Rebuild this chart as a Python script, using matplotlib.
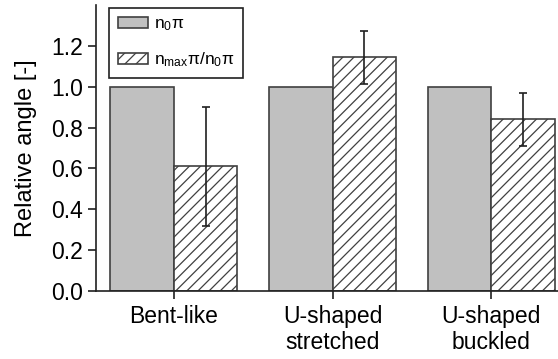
import matplotlib
matplotlib.use('Agg')
import matplotlib.pyplot as plt
import numpy as np

categories = ['Bent-like', 'U-shaped\nstretched', 'U-shaped\nbuckled']
n0_values = [1.0, 1.0, 1.0]
ratio_values = [0.61, 1.145, 0.84]
ratio_errors = [0.29, 0.13, 0.13]

plt.rcParams['font.family'] = ['Liberation Sans', 'DejaVu Sans']
plt.rcParams['mathtext.fontset'] = 'custom'
plt.rcParams['mathtext.rm'] = 'Liberation Sans'
plt.rcParams['mathtext.it'] = 'Liberation Sans:italic'
plt.rcParams['hatch.linewidth'] = 0.9
plt.rcParams['hatch.color'] = '#303030'

fig = plt.figure(figsize=(5.58, 3.59), dpi=100)
ax = fig.add_axes([96 / 558, 68 / 359, 1 - 96 / 558, 286 / 359])

x = np.arange(len(categories))
w = 0.4
edge = '#404040'
ax.bar(x - w / 2, n0_values, w, color='#c0c0c0', edgecolor=edge, linewidth=1.2,
       label=r'$\mathregular{n_0}$π')
ax.bar(x + w / 2, ratio_values, w, color='white', edgecolor=edge, linewidth=1.2,
       hatch='///', label=r'$\mathregular{n_{max}}$π/$\mathregular{n_0}$π')
ax.errorbar(x + w / 2, ratio_values, yerr=ratio_errors, fmt='none',
            ecolor='#202020', elinewidth=1.2, capsize=3, capthick=1.2)

ax.set_xlim(-0.49, 2.42)
ax.set_ylim(0, 1.4)
ax.set_yticks(np.arange(0, 1.3, 0.2))
ax.set_yticklabels([f'{v:.1f}' for v in np.arange(0, 1.3, 0.2)])
ax.set_xticks(x)
ax.set_xticklabels(categories)
ax.set_ylabel('Relative angle [-]', fontsize=17, labelpad=10)

for s in ['top', 'right']:
    ax.spines[s].set_visible(False)
for s in ['left', 'bottom']:
    ax.spines[s].set_linewidth(1.2)
    ax.spines[s].set_color('#202020')
ax.tick_params(axis='both', labelsize=16.5, width=1.2, length=6, color='#202020')
ax.tick_params(axis='x', pad=4)

leg = ax.legend(loc='upper left', bbox_to_anchor=(109 / 558, 1 - 8 / 359),
                bbox_transform=fig.transFigure, fontsize=12.5, fancybox=False,
                framealpha=1, edgecolor='#202020', handlelength=1.75,
                handleheight=0.6, labelspacing=1.0, borderpad=0.5,
                handletextpad=0.35, borderaxespad=0)
leg.get_frame().set_linewidth(1.2)

fig.savefig('out.png', dpi=100)
